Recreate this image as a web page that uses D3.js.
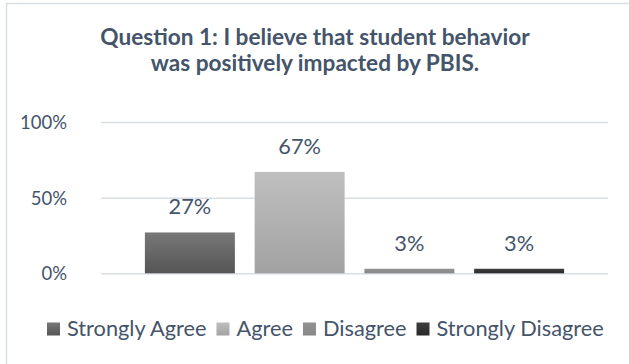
<!DOCTYPE html>
<html>
<head>
<meta charset="utf-8">
<script src="https://cdn.jsdelivr.net/npm/d3@7"></script>
<style>
  html, body { margin: 0; padding: 0; background: #ffffff; }
  svg { display: block; }
  text { font-family: Lato, "Open Sans", sans-serif; }
</style>
</head>
<body>
<div id="chart"></div>
<script>
// ---- data ----
const titleLines = ["Question 1: I believe that student behavior", "was positively impacted by PBIS."];
const categories = ["Strongly Agree", "Agree", "Disagree", "Strongly Disagree"];
const values = [0.27, 0.67, 0.03, 0.03];
const valueLabels = ["27%", "67%", "3%", "3%"];
const yTicks = [0, 0.5, 1];
const yTickLabels = ["0%", "50%", "100%"];

// ---- styles ----
const gradTop = ["#787878", "#bfbfbf", "#929292", "#3e3e3e"];
const gradBottom = ["#555555", "#a2a2a2", "#888888", "#2a2a2a"];
const textColor = "#44546A";

function draw() {
const W = 629, H = 364;
d3.select("#chart").selectAll("*").remove();
const svg = d3.select("#chart").append("svg").attr("width", W).attr("height", H);
const defs = svg.append("defs");
categories.forEach((c, i) => {
  const g = defs.append("linearGradient").attr("id", "g" + i)
    .attr("x1", 0).attr("y1", 0).attr("x2", 0).attr("y2", 1);
  g.append("stop").attr("offset", "0%").attr("stop-color", gradTop[i]);
  g.append("stop").attr("offset", "100%").attr("stop-color", gradBottom[i]);
});

// chart border
svg.append("rect").attr("x", 6.5).attr("y", 3.5).attr("width", 700).attr("height", 400)
  .attr("fill", "#fff").attr("stroke", "#D9DEE4").attr("stroke-width", 1.5);

function measure(str, size, weight) {
  const t = svg.append("text").attr("font-size", size).attr("font-weight", weight || "normal").text(str);
  const w = t.node().getComputedTextLength();
  t.remove();
  return w;
}

// ---- scales ----
const plotLeft = 101, plotRight = 608;
const y = d3.scaleLinear().domain([0, 1]).range([273.3, 122]);
const x = d3.scaleBand().domain(categories).range([plotLeft, plotRight])
  .paddingInner(0.18).paddingOuter(0.4);

// font size shared by data labels and legend (fit to legend width)
const legendTextTarget = 447;
const sum100 = d3.sum(categories, c => measure(c, 100));
const fs = 100 * legendTextTarget / sum100;
const afs = Math.min(fs, 100 * 47 / measure("100%", 100));

// gridlines
const yAxis = d3.axisLeft(y).tickValues(yTicks).tickSize(-(plotRight - plotLeft))
  .tickFormat((d, i) => yTickLabels[i]).tickPadding(35);
const ga = svg.append("g").attr("transform", `translate(${plotLeft},0)`).call(yAxis);
ga.select(".domain").remove();
ga.selectAll(".tick line").attr("stroke", "#D9DEE4").attr("stroke-width", 1.5);
ga.selectAll(".tick text").attr("fill", textColor).attr("font-size", afs)
  .attr("font-family", "Lato, 'Open Sans', sans-serif").attr("x", 67 - plotLeft).attr("dy", "0.35em");

// bars
svg.selectAll("rect.bar").data(categories).enter().append("rect").attr("class", "bar")
  .attr("x", c => x(c)).attr("width", x.bandwidth())
  .attr("y", (c, i) => y(values[i])).attr("height", (c, i) => y(0) - y(values[i]))
  .attr("fill", (c, i) => `url(#g${i})`);

// data labels
svg.selectAll("text.lbl").data(categories).enter().append("text").attr("class", "lbl")
  .attr("x", c => x(c) + x.bandwidth() / 2)
  .attr("y", (c, i) => y(values[i]) - 18)
  .attr("text-anchor", "middle").attr("font-size", fs).attr("fill", textColor)
  .text((c, i) => valueLabels[i]);

// title
const tw1 = measure(titleLines[0], 100, "bold"), tw2 = measure(titleLines[1], 100, "bold");
const tfs = 100 * (420 / tw1 + 336 / tw2) / 2;
const titleCx = 315;
[45, 71].forEach((yy, i) => {
  svg.append("text").attr("x", titleCx).attr("y", yy).attr("text-anchor", "middle")
    .attr("font-size", tfs).attr("font-weight", "bold").attr("fill", textColor).text(titleLines[i]);
});

// legend
const sq = 13, gapSqText = 7, gapItems = 10;
let lx = 47;
const legY = 335.5;
categories.forEach((c, i) => {
  svg.append("rect").attr("x", lx).attr("y", legY - 13).attr("width", sq).attr("height", sq)
    .attr("fill", `url(#g${i})`);
  lx += sq + gapSqText;
  const t = svg.append("text").attr("x", lx).attr("y", legY).attr("font-size", fs)
    .attr("fill", textColor).text(c);
  lx += t.node().getComputedTextLength() + gapItems;
});
}

draw();
if (document.fonts && document.fonts.load) {
  Promise.all([document.fonts.load("bold 20px Lato"), document.fonts.load("20px Lato")])
    .then(draw).catch(() => {});
}
</script>
</body>
</html>
